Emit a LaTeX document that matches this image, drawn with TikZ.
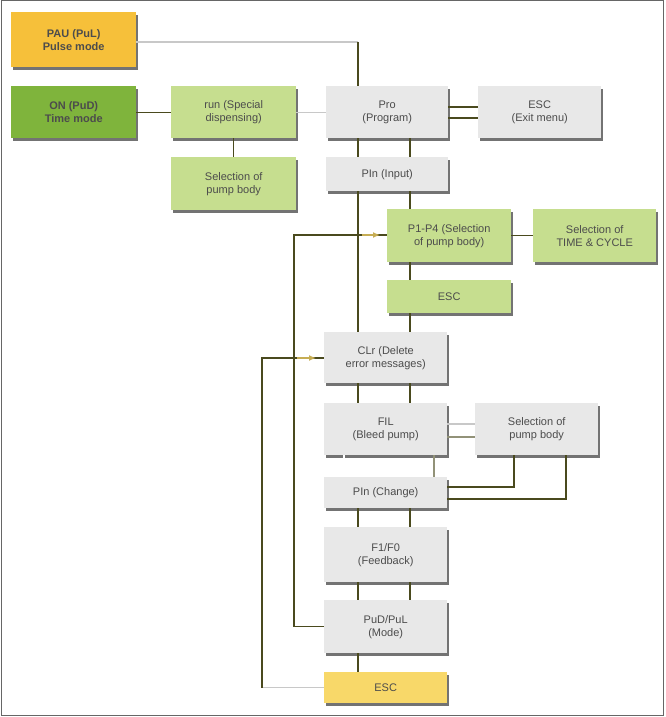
\documentclass[tikz,border=0pt]{standalone}
\usepackage{fontspec}
\setmainfont{Liberation Sans}
\usetikzlibrary{arrows.meta}
\definecolor{lgrey}{HTML}{E8E8E8}
\definecolor{lgreen}{HTML}{C6DE8F}
\definecolor{dgreen}{HTML}{7FB43C}
\definecolor{orng}{HTML}{F6C03A}
\definecolor{yel}{HTML}{F8D869}
\definecolor{ln}{HTML}{4A4A1E}
\definecolor{lln}{HTML}{C8C8C8}
\tikzset{
 box/.style={draw=none,fill=#1,inner sep=1pt,align=center,font=\fontsize{11}{13}\selectfont,text=black!70},
 conn/.style={draw=ln,line width=1.4pt},
 lconn/.style={draw=lln,line width=1.4pt},
 ymark/.style={-{Latex[length=7pt,width=6pt]},draw=yel!80!black,line width=1.4pt},
}
\newcommand{\mybox}[7]{% name, x1,y1,x2,y2, fill, text
 \fill[black!55] (#2+2,#3+3) rectangle (#4+2,#5+3);
 \node[box=#6,minimum width=#4-#2,minimum height=#5-#3,anchor=north west] (#1) at (#2,#3) {#7};}
\begin{document}
\begin{tikzpicture}[x=1pt,y=-1pt]
\useasboundingbox (0,0) rectangle (665,717);
\draw[black!60,line width=1pt] (1,1) rectangle (663,715);
\coordinate (c1) at (358,42);
\mybox{pau}{11}{12}{136}{67}{orng}{\textbf{PAU (PuL)}\\\textbf{Pulse mode}}
\mybox{on}{11}{86}{136}{138}{dgreen}{\textbf{ON (PuD)}\\\textbf{Time mode}}
\mybox{run}{171}{86}{296}{138}{lgreen}{run (Special\\dispensing)}
\mybox{sel1}{171}{157}{296}{210}{lgreen}{Selection of\\pump body}
\mybox{pro}{326}{86}{448}{138}{lgrey}{Pro\\(Program)}
\mybox{esc1}{478}{86}{601}{138}{lgrey}{ESC\\(Exit menu)}
\mybox{pin}{326}{157}{448}{191}{lgrey}{PIn (Input)}
\mybox{p14}{387}{209}{511}{262}{lgreen}{P1-P4 (Selection\\of pump body)}
\mybox{time}{533}{209}{656}{262}{lgreen}{Selection of\\TIME \& CYCLE}
\mybox{esc2}{387}{280}{511}{313}{lgreen}{ESC}
\mybox{clr}{324}{332}{447}{383}{lgrey}{CLr (Delete\\error messages)}
\mybox{fil}{324}{403}{447}{455}{lgrey}{FIL\\(Bleed pump)}
\mybox{sel2}{475}{403}{598}{455}{lgrey}{Selection of\\pump body}
\mybox{pch}{324}{477}{447}{508}{lgrey}{PIn (Change)}
\mybox{fb}{324}{527}{447}{582}{lgrey}{F1/F0\\(Feedback)}
\mybox{pud}{324}{600}{447}{653}{lgrey}{PuD/PuL\\(Mode)}
\mybox{esc3}{324}{672}{447}{703}{yel}{ESC}
% connectors
\draw[lconn] (pau.east |- c1) -- (c1);
\draw[conn] (c1) -- (c1 |- pro.north);
\draw[conn] (on.east) -- (run.west);
\draw[lconn] (run.east) -- (pro.west);
\draw[conn] (run.south) -- (sel1.north);
\draw[conn] (pro.east |- 0,107) -- (esc1.west |- 0,107);
\draw[conn] (pro.east |- 0,118) -- (esc1.west |- 0,118);
\draw[conn] (358,138) -- (358,157);
\draw[conn] (410,138) -- (410,157);
\draw[conn] (358,191) -- (358,332);
\draw[conn] (410,191) -- (410,209);
\draw[conn] (410,262) -- (410,280);
\draw[conn] (410,313) -- (410,332);
\draw[conn] (p14.east) -- (time.west);
\coordinate (lp) at (294,235);
\draw[conn] (pud.west) -- (lp |- pud.west) -- (lp) -- (p14.west |- lp);
\draw[ymark] (362,235) -- (380,235);
\coordinate (op) at (262,358);
\draw[lconn] (esc3.west) -- (op |- esc3.west);
\draw[conn] (op |- esc3.west) -- (op) -- (clr.west |- op);
\draw[ymark] (297,358) -- (316,358);
\draw[conn] (358,383) -- (358,403);
\draw[conn] (410,383) -- (410,403);
\draw[lconn] (fil.east |- 0,424) -- (sel2.west |- 0,424);
\draw[conn,draw=ln!60] (fil.east |- 0,437) -- (sel2.west |- 0,437);
\draw[draw=white,line width=1.4pt] (344,455) -- (344,477);
\draw[conn,draw=ln!60] (434,455) -- (434,477);
\draw[conn] (514,455) -- (514,487) -- (pch.east |- 0,487);
\draw[conn] (566,455) -- (566,499) -- (pch.east |- 0,499);
\draw[conn] (358,508) -- (358,527);
\draw[conn] (410,508) -- (410,527);
\draw[conn] (358,582) -- (358,600);
\draw[conn] (410,582) -- (410,600);
\draw[conn] (358,653) -- (358,672);
\end{tikzpicture}
\end{document}
